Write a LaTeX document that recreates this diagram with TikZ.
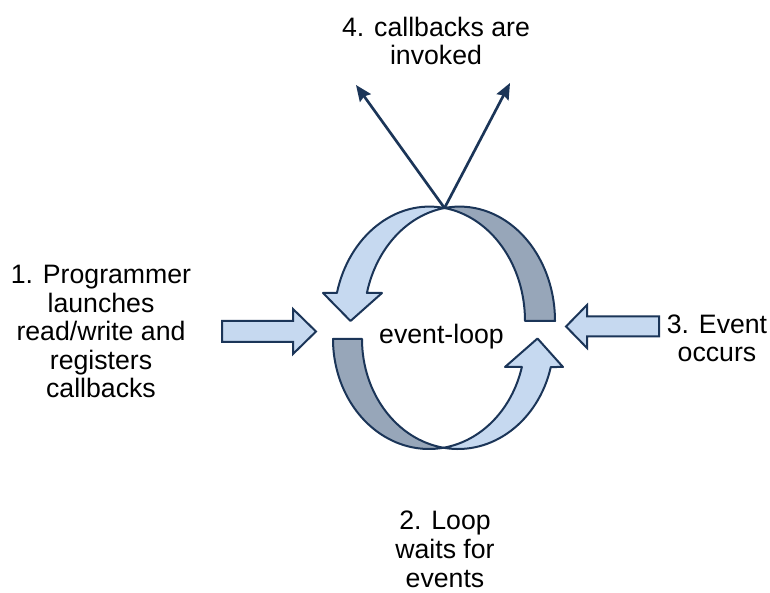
\documentclass[tikz,border=0pt]{standalone}
\usepackage{fontspec}
\setmainfont{Liberation Sans}
\usetikzlibrary{arrows.meta}

\definecolor{ribbonline}{HTML}{1B3558}
\definecolor{ribbonfront}{HTML}{C6D9F0}
\definecolor{ribbonback}{HTML}{97A6B9}

\begin{document}
\begin{tikzpicture}[x=0.75pt,y=0.75pt,
  front/.style={draw=ribbonline,fill=ribbonfront,line width=1.5pt,line join=round},
  back/.style={draw=ribbonline,fill=ribbonback,line width=1.5pt,line join=round},
  blockarrow/.style={draw=ribbonline,fill=ribbonfront,line width=1.5pt,line join=miter},
  pointer/.style={draw=ribbonline,line width=2pt,-{Stealth[length=12pt,width=10pt,inset=1.5pt]}},
  label/.style={font=\fontsize{20pt}{21.4pt}\selectfont,align=center,inner sep=0pt,anchor=base},
  top1/.style={x radius=95.5,y radius=114.4},
  top2/.style={x radius=95.5,y radius=114.4},
  bot/.style={x radius=96,y radius=110}]

\useasboundingbox[fill=white] (0,0) rectangle (770,592);

% crossing points of the twisted ribbon
\coordinate (T) at (444.5,383.98);
\coordinate (B) at (443.5,144.26);

% upper half: back face on the right, front face with arrow head on the left
\draw[back] (T) arc[start angle=99.04,end angle=0,top2] -- (525,271)
  arc[start angle=0,end angle=80.96,top1] -- cycle;
\draw[front] (T) arc[start angle=80.96,end angle=165.83,top1]
  -- (323,299) -- (350.5,271) -- (382,299) -- (366.9,299)
  arc[start angle=165.83,end angle=99.04,top2] -- cycle;

% lower half: back face on the left, front face with arrow head on the right
\draw[back] (333,253) arc[start angle=180,end angle=278.687,bot]
  arc[start angle=261.313,end angle=180,bot] -- cycle;
\draw[front] (B) arc[start angle=-98.687,end angle=-14.747,bot]
  -- (563,225) -- (537.5,253.5) -- (505,225) -- (521.84,225)
  arc[start angle=-14.747,end angle=-81.313,bot] -- cycle;

% block arrows feeding the loop
\draw[blockarrow] (222,250) -- (293,250) -- (293,238) -- (316,260.5)
  -- (293,283) -- (293,271) -- (222,271) -- cycle;
\draw[blockarrow] (659,255.5) -- (587,255.5) -- (587,244) -- (566,265.5)
  -- (587,287) -- (587,275.5) -- (659,275.5) -- cycle;

% callbacks leaving the loop
\coordinate (outL) at (356,507);
\coordinate (outR) at (510,509);
\draw[pointer] (T) -- (outL);
\draw[pointer] (T) -- (outR);

% labels (base anchor sits on the last line)
\node[label] (center) at (441.5,248) {event-loop};
\node[label] (invoke) at (436,527) {4. callbacks are\\invoked};
\node[label] (launch) at (101,194) {1. Programmer\\launches\\read/write and\\registers\\callbacks};
\node[label] (occur) at (717,230) {3. Event\\occurs};
\node[label] (wait) at (445,5) {2. Loop\\waits for\\events};
\end{tikzpicture}
\end{document}
